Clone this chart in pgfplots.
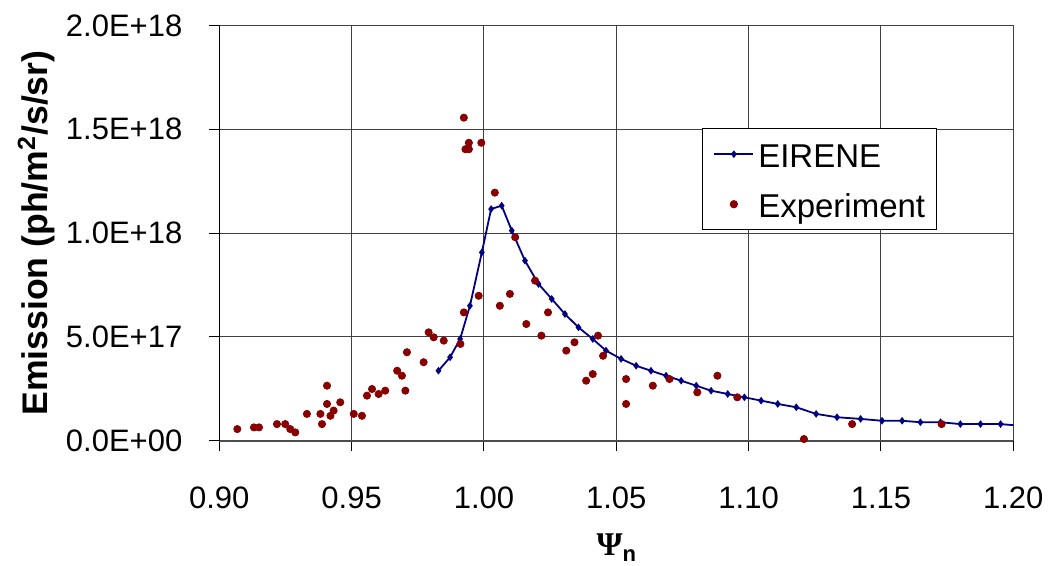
\documentclass[border=0pt]{standalone}
\usepackage{fontspec}
\setmainfont{Liberation Sans}
\newfontfamily\psifont{Liberation Serif}
\usepackage{pgfplots}
\pgfplotsset{compat=1.18}
\definecolor{navyline}{HTML}{000080}
\definecolor{expred}{HTML}{880000}

\begin{document}
\begin{tikzpicture}
\begin{axis}[
  name=main,
  scale only axis,
  width=397pt, height=207.6pt,
  xmin=0.9, xmax=1.2, ymin=0, ymax=20,
  enlargelimits=false,
  xtick={0.9,0.95,1.0,1.05,1.1,1.15,1.2},
  xticklabels={0.90,0.95,1.00,1.05,1.10,1.15,1.20},
  ytick={0,5,10,15,20},
  yticklabels={0.0E+00,5.0E+17,1.0E+18,1.5E+18,2.0E+18},
  axis lines=left, axis line style={-},
  x axis line style={draw=black!70, line width=1pt},
  y axis line style={draw=black, line width=0.5pt},
  grid=major, grid style={draw=black!75, line width=0.5pt},
  tick align=outside, major tick length=5pt,
  tick style={black, line width=0.5pt},
  ticklabel style={font=\fontsize{15.5}{18}\selectfont},
  xticklabel style={anchor=north, inner sep=0pt, yshift=-18pt},
  yticklabel style={anchor=east, inner sep=0pt, xshift=-13.3pt},
  ylabel={\textbf{Emission (ph/m\textsuperscript{2}/s/sr)}},
  ylabel style={at={(axis description cs:-0.2063,0.5)}, anchor=south, inner sep=0pt, font=\fontsize{17.8}{20}\selectfont},
  xlabel={{\psifont\bfseries Ψ}\raisebox{-0.2em}{\fontsize{11}{11}\selectfont\bfseries n}},
  xlabel style={at={(axis description cs:0.5,-0.2753)}, anchor=base, inner sep=0pt, font=\fontsize{16.6}{19}\selectfont},
  legend style={at={(axis description cs:0.6079,0.7524)}, anchor=north west,
    draw=black, line width=0.5pt, fill=white,
    inner xsep=5.5pt, inner ysep=2.7pt, row sep=5pt,
    font=\fontsize{16.5}{19}\selectfont,
    nodes={inner sep=0pt, text height=16.5pt, text depth=3.5pt}},
  legend cell align=left,
  legend image code/.code={\draw[mark repeat=2,mark phase=2,#1] plot coordinates {(0pt,0pt)(9.75pt,0pt)(19.5pt,0pt)}; \path (21.5pt,0pt);},
  /tikz/every even column/.append style={column sep=5pt},
]
\addplot[color=navyline, line width=0.9pt, mark=diamond*, mark size=1.2pt, mark options={fill=navyline, draw=navyline}] coordinates {
(0.9828,3.37)(0.9872,4.02)(0.9910,4.90)(0.9947,6.50)(0.9992,9.07)(1.0027,11.16)
(1.0067,11.32)(1.0105,10.12)(1.0155,8.67)(1.0206,7.55)(1.0256,6.83)(1.0306,6.10)
(1.0357,5.46)(1.0411,4.90)(1.0461,4.34)(1.0518,3.94)(1.0575,3.61)(1.0631,3.37)
(1.0688,3.13)(1.0745,2.89)(1.0802,2.65)(1.0858,2.41)(1.0921,2.25)(1.0984,2.09)
(1.1047,1.93)(1.1110,1.77)(1.1180,1.61)(1.1255,1.29)(1.1334,1.13)(1.1423,1.05)
(1.1504,0.96)(1.1580,0.96)(1.1649,0.89)(1.1725,0.89)(1.1800,0.80)(1.1876,0.80)
(1.1952,0.80)(1.2027,0.72)
};
\addlegendentry{EIRENE}
\addplot[only marks, mark=*, mark size=1.8pt, mark options={fill=expred, draw=expred}] coordinates {
(0.9068,0.56)(0.9131,0.64)(0.9150,0.64)(0.9218,0.80)(0.9249,0.80)(0.9268,0.56)
(0.9287,0.40)(0.9331,1.29)(0.9382,1.29)(0.9388,0.80)(0.9407,2.65)(0.9407,1.77)
(0.9420,1.20)(0.9432,1.45)(0.9457,1.85)(0.9508,1.29)(0.9539,1.20)(0.9558,2.17)
(0.9577,2.49)(0.9602,2.25)(0.9627,2.41)(0.9672,3.37)(0.9690,3.13)(0.9703,2.41)
(0.9709,4.26)(0.9772,3.78)(0.9791,5.22)(0.9810,4.98)(0.9848,4.82)(0.9911,4.66)
(0.9924,6.18)(0.9980,6.98)(0.9924,15.56)(0.9943,14.35)(0.9930,14.04)(0.9943,14.04)
(0.9990,14.35)(1.0041,11.95)(1.0060,6.50)(1.0098,7.07)(1.0118,9.80)(1.0160,5.62)
(1.0193,7.71)(1.0217,5.06)(1.0242,6.18)(1.0311,4.34)(1.0342,4.74)(1.0386,2.89)
(1.0411,3.21)(1.0431,5.06)(1.0450,4.09)(1.0537,2.97)(1.0537,1.77)(1.0638,2.65)
(1.0701,2.97)(1.0806,2.33)(1.0882,3.13)(1.0957,2.09)(1.1209,0.08)(1.1391,0.80)
(1.1729,0.80)
};
\addlegendentry{Experiment\hspace{3pt}}
\end{axis}
\pgfresetboundingbox
\path[use as bounding box] ([xshift=-109.65pt,yshift=-62.65pt]main.south west) rectangle ([xshift=19.35pt,yshift=12.75pt]main.north east);
\end{tikzpicture}
\end{document}
